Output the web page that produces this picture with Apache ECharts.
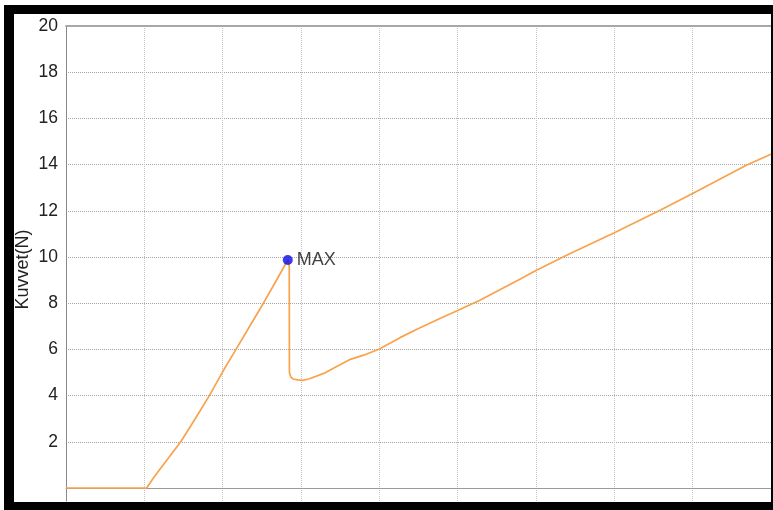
<!DOCTYPE html>
<html>
<head>
<meta charset="utf-8">
<title>Kuvvet</title>
<script src="https://cdn.jsdelivr.net/npm/echarts@6/dist/echarts.min.js"></script>
<style>
  html, body { margin: 0; padding: 0; background: #ffffff; }
  #chart { width: 773px; height: 510px; }
</style>
</head>
<body>
<div id="chart"></div>
<script>
// Displacement (grid units) and measured force (N) along the test curve
const xValues = [0, 1.03, 1.12, 1.24, 1.465, 1.65, 1.83, 2.0, 2.17, 2.345, 2.52, 2.68, 2.831,
  2.85, 2.852, 2.87, 2.90, 2.96, 3.02, 3.1, 3.29, 3.45, 3.63, 3.8, 4.0, 4.27, 4.5, 4.78,
  5.0, 5.29, 5.63, 5.8, 6.0, 6.39, 7.0, 7.59, 8.0, 8.69, 9.0];
const forceValues = [0, 0, 0.45, 1.0, 2.0, 3.0, 4.0, 5.03, 6.0, 7.0, 8.0, 8.95, 9.87,
  9.6, 5.0, 4.8, 4.72, 4.68, 4.66, 4.72, 4.96, 5.25, 5.57, 5.75, 6.02, 6.52, 6.9, 7.35,
  7.68, 8.14, 8.74, 9.05, 9.42, 10.08, 11.05, 12.03, 12.75, 13.98, 14.45];

// Sample index of the first peak (break point), marked as MAX
const peakIndex = 12;

// Axis ranges and tick labels
const xMin = 0, xMax = 9, xStep = 1;
const yMin = -0.563, yMax = 20;
const yTickValues = [0, 2, 4, 6, 8, 10, 12, 14, 16, 18, 20];
const yLabelValues = [2, 4, 6, 8, 10, 12, 14, 16, 18, 20];
const yAxisName = 'Kuvvet(N)';
const maxLabel = 'MAX';

const curve = xValues.map((x, i) => [x, forceValues[i]]);
const peak = [[xValues[peakIndex], forceValues[peakIndex]]];

const FONT = '"Liberation Sans", Arial, sans-serif';
const chart = echarts.init(document.getElementById('chart'), null, { renderer: 'canvas' });

chart.setOption({
  backgroundColor: '#ffffff',
  animation: false,
  grid: { left: 66, right: 2, top: 26, bottom: 9, containLabel: false },
  xAxis: [{
    type: 'value', min: xMin, max: xMax, interval: xStep, position: 'bottom',
    axisLine: { show: true, lineStyle: { color: '#9a9a9a', width: 1 } },
    axisTick: { show: false },
    axisLabel: { show: false },
    splitLine: { show: true, lineStyle: { color: '#c4c4c4', type: [1, 1], width: 1 } }
  }, {
    type: 'value', min: xMin, max: xMax, position: 'top',
    axisLine: { show: true, onZero: false, lineStyle: { color: '#a8a8a8', width: 2 } },
    axisTick: { show: false },
    axisLabel: { show: false },
    splitLine: { show: false }
  }],
  yAxis: {
    type: 'value', min: yMin, max: yMax,
    name: yAxisName, nameLocation: 'middle', nameRotate: 90, nameGap: 34,
    nameMoveOverlap: false,
    nameTextStyle: { fontFamily: FONT, fontSize: 18, color: '#222', padding: [0, 12, 0, 0] },
    axisLine: { show: true, lineStyle: { color: '#8a8a8a', width: 1 } },
    axisTick: { show: false, customValues: yTickValues },
    axisLabel: { show: true, customValues: yLabelValues, fontFamily: FONT, fontSize: 17.5, color: '#222', margin: 8 },
    splitLine: { show: true, lineStyle: { color: '#a4a4a4', type: [1, 1], width: 1 } }
  },
  series: [{
    type: 'line',
    data: curve,
    showSymbol: false,
    symbol: 'none',
    lineStyle: { color: '#f8a24c', width: 1.7 },
    z: 3
  }, {
    type: 'scatter',
    data: peak,
    symbolSize: 10,
    itemStyle: { color: '#0a0ae6' },
    label: {
      show: true, position: 'right', distance: 4,
      formatter: maxLabel, fontFamily: FONT, fontSize: 18, color: '#111'
    },
    z: 4
  }],
  graphic: [
    { type: 'rect', shape: { x: 4, y: 5, width: 769, height: 9 }, style: { fill: '#000' }, z: 100 },
    { type: 'rect', shape: { x: 4, y: 5, width: 10, height: 505 }, style: { fill: '#000' }, z: 100 },
    { type: 'rect', shape: { x: 4, y: 502, width: 769, height: 8 }, style: { fill: '#000' }, z: 100 },
    { type: 'rect', shape: { x: 771, y: 5, width: 2, height: 505 }, style: { fill: '#000' }, z: 100 }
  ]
});
</script>
</body>
</html>
